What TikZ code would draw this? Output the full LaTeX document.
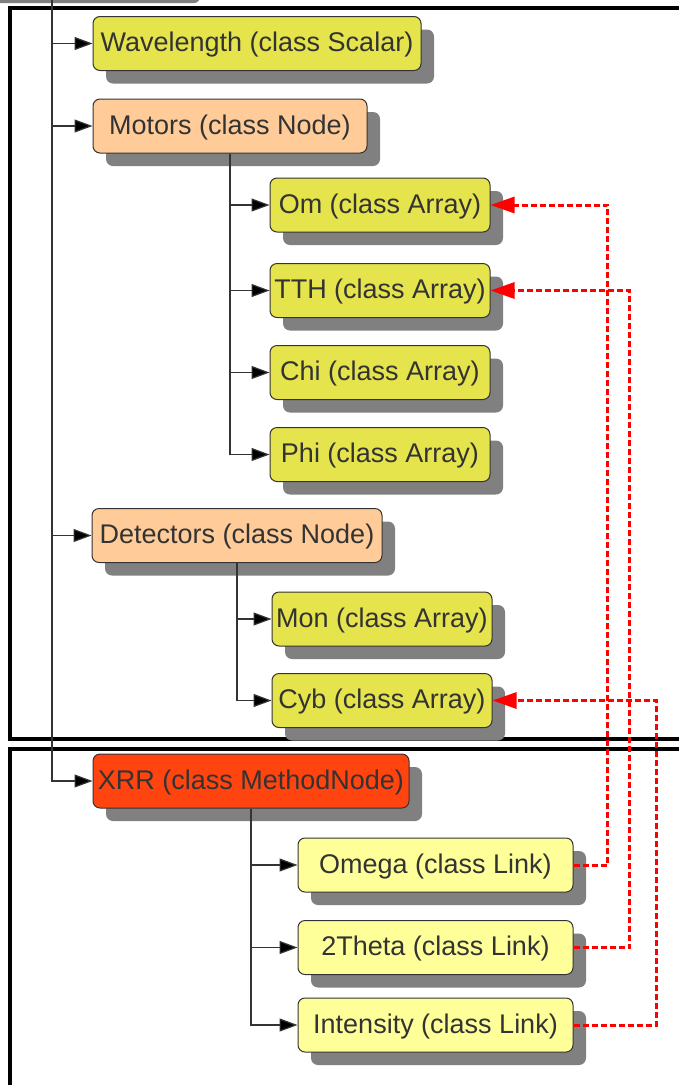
\documentclass[tikz,border=0pt]{standalone}
\usepackage{fontspec}
\setmainfont{Liberation Sans}
\usetikzlibrary{arrows.meta,shadows}

\definecolor{arrayfill}{RGB}{230,228,76}
\definecolor{groupfill}{RGB}{255,204,153}
\definecolor{methodfill}{RGB}{255,68,16}
\definecolor{linkfill}{RGB}{255,255,153}
\definecolor{shadowgray}{RGB}{128,128,128}
\definecolor{inkgray}{RGB}{51,51,51}

\begin{document}
\begin{tikzpicture}[x=1pt,y=-1pt,
  box/.style={draw=inkgray, line width=1pt, rounded corners=7pt,
    minimum height=54pt, inner sep=0pt, text=inkgray,
    text height=20pt, text depth=3.5pt,
    font=\fontsize{27}{32}\selectfont,
    drop shadow={shadow xshift=13pt, shadow yshift=-13pt,
      fill=shadowgray, opacity=1}},
  scalarbox/.style={box, fill=arrayfill},
  arraybox/.style={box, fill=arrayfill, minimum width=220pt},
  groupbox/.style={box, fill=groupfill},
  methodbox/.style={box, fill=methodfill},
  linkbox/.style={box, fill=linkfill, minimum width=275pt},
  frame/.style={line width=3.5pt, black},
  conn/.style={draw=inkgray, line width=1.2pt,
    -{Triangle[length=18pt,width=13pt,fill=black]}},
  linkref/.style={draw=red, line width=3pt, dash pattern=on 6pt off 3pt,
    -{Triangle[length=24pt,width=16pt,fill=red]}},
]
\useasboundingbox (0,0) rectangle (678,1085);

% shadow of the parent entry just above the visible area
\fill[shadowgray, rounded corners=6pt] (-20,-30) rectangle (200,3);

% group frames
\draw[frame] (700,8) -- (10,8) -- (10,739) -- (700,739);
\draw[frame] (700,749) -- (10,749) -- (10,1100);

% entries
\node[scalarbox, minimum width=328pt] (wl) at (257,43.5) {Wavelength (class Scalar)};
\node[groupbox, minimum width=274pt] (motors) at (230,126) {Motors (class Node)};
\node[arraybox] (om)  at (380,205)   {Om (class Array)};
\node[arraybox] (tth) at (380,290.5) {TTH (class Array)};
\node[arraybox] (chi) at (380,372.5) {Chi (class Array)};
\node[arraybox] (phi) at (380,454.5) {Phi (class Array)};
\node[groupbox, minimum width=290pt] (det) at (237,535.5) {Detectors (class Node)};
\node[arraybox] (mon) at (382,619)   {Mon (class Array)};
\node[arraybox] (cyb) at (382,700.5) {Cyb (class Array)};
\node[methodbox, minimum width=316pt] (xrr) at (251,781) {XRR (class MethodNode)};
\node[linkbox] (omega)  at (435.5,865)    {Omega (class Link)};
\node[linkbox] (theta)  at (435.5,947.5)  {2Theta (class Link)};
\node[linkbox] (intens) at (435.5,1025)   {Intensity (class Link)};

% tree connectors
\coordinate (root) at (52,0);
\draw[conn] (root) |- (wl.west);
\draw[conn] (root) |- (motors.west);
\draw[conn] (root) |- (det.west);
\draw[conn] (root) |- (xrr.west);

\draw[conn] (motors.south) |- (om.west);
\draw[conn] (motors.south) |- (tth.west);
\draw[conn] (motors.south) |- (chi.west);
\draw[conn] (motors.south) |- (phi.west);

\draw[conn] (det.south) |- (mon.west);
\draw[conn] (det.south) |- (cyb.west);

\draw[conn] (xrr.south) |- (omega.west);
\draw[conn] (xrr.south) |- (theta.west);
\draw[conn] (xrr.south) |- (intens.west);

% link targets
\draw[linkref] (omega.east) -- ++(34,0) |- (om.east);
\draw[linkref] (theta.east) -- ++(56,0) |- (tth.east);
\draw[linkref] (intens.east) -- ++(83,0) |- (cyb.east);
\end{tikzpicture}
\end{document}
